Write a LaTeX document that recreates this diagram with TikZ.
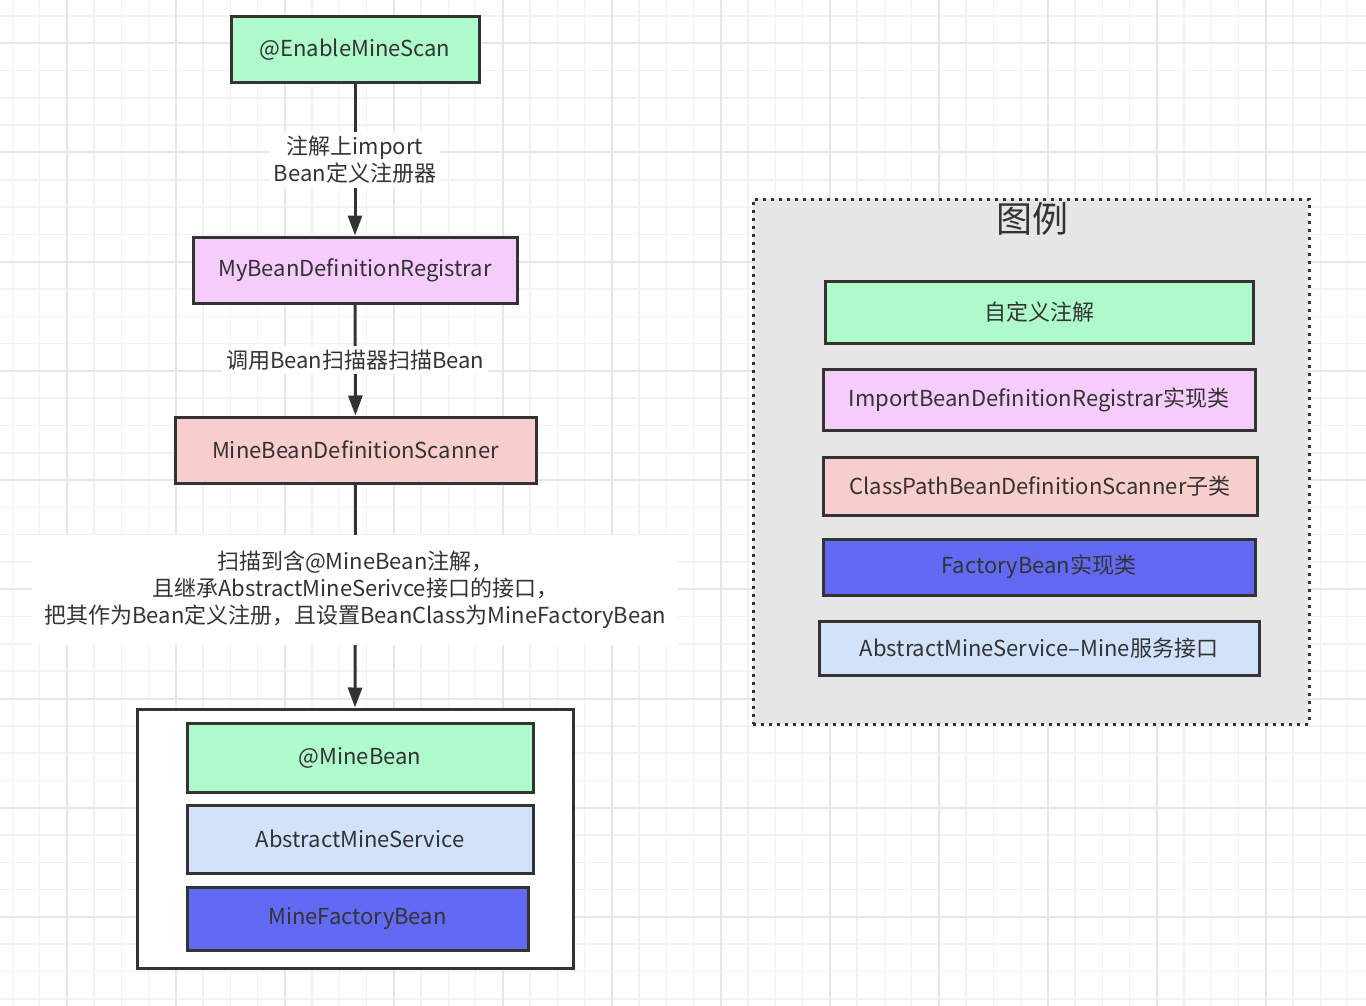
\documentclass[tikz,border=0pt]{standalone}
\usepackage{fontspec}
\setmainfont{Noto Sans CJK SC}
\usepackage{xcolor}
\usetikzlibrary{arrows.meta, positioning}

\definecolor{annogreen}{HTML}{AFFACB}
\definecolor{regpink}{HTML}{F5CCFB}
\definecolor{scanred}{HTML}{F8CECC}
\definecolor{factblue}{HTML}{626AF4}
\definecolor{ifaceblue}{HTML}{D0E3FA}
\definecolor{edgegray}{HTML}{333333}
\definecolor{gridminor}{HTML}{F1F1F1}
\definecolor{gridmajor}{HTML}{E6E6E6}
\definecolor{legendbg}{HTML}{E6E6E6}

\tikzset{
	box/.style={draw=edgegray, line width=1.5pt, text=edgegray, minimum height=33pt, inner sep=0pt, font=\fontsize{11}{13}\selectfont},
	lbl/.style={fill=white, text=edgegray, align=center, inner sep=2pt, font=\fontsize{11}{13.4}\selectfont},
	flow/.style={draw=edgegray, line width=1.5pt, -{Triangle[length=10pt,width=7pt]}},
}

\begin{document}
\begin{tikzpicture}[x=0.5pt, y=-0.5pt]
	\useasboundingbox (0,0) rectangle (1366,1006);
	\fill[white] (0,0) rectangle (1366,1006);
	
	% background grid
	\foreach \k in {0,...,49} \draw[gridminor, line width=0.75pt] ({12.3+27.25*\k},0) -- ({12.3+27.25*\k},1006);
	\foreach \k in {0,...,37} \draw[gridminor, line width=0.75pt] (0,{16+27.3*\k}) -- (1366,{16+27.3*\k});
	\foreach \k in {0,...,12} \draw[gridmajor, line width=1pt] ({66.8+109*\k},0) -- ({66.8+109*\k},1006);
	\foreach \k in {0,...,9} \draw[gridmajor, line width=1pt] (0,{43.3+109.2*\k}) -- (1366,{43.3+109.2*\k});
	
	% flow
	\node[box, fill=annogreen, minimum width=124pt] (enable) at (355,50) {@EnableMineScan};
	\node[box, fill=regpink, minimum width=162pt] (registrar) at (355,270) {MyBeanDefinitionRegistrar};
	\node[box, fill=scanred, minimum width=180.5pt] (scanner) at (355.5,450) {MineBeanDefinitionScanner};
	
	\node[box, fill=white, minimum width=218pt, minimum height=129.5pt] (result) at (355,838.5) {};
	\node[box, fill=annogreen, minimum width=173pt, minimum height=34.5pt] (minebean) at (360,757.5) {@MineBean};
	\node[box, fill=ifaceblue, minimum width=173pt, minimum height=34pt] (abstract) at (360,839) {AbstractMineService};
	\node[box, fill=factblue, minimum width=170.5pt, minimum height=31.5pt] (factory) at (357.5,918.5) {MineFactoryBean};
	
	\draw[flow] (enable) -- node[lbl] {注解上import\\Bean定义注册器} (registrar);
	\draw[flow] (registrar) -- node[lbl] {调用Bean扫描器扫描Bean} (scanner);
	\draw[flow] (scanner) -- node[lbl, yshift=3pt, inner ysep=8pt, inner xsep=6pt] {扫描到含@MineBean注解，\\且继承AbstractMineSerivce接口的接口，\\把其作为Bean定义注册，且设置BeanClass为MineFactoryBean} (result.north);
	
	% legend
	\node[draw=edgegray, fill=legendbg, line width=1.5pt, dash pattern=on 1.5pt off 2.5pt, minimum width=278pt, minimum height=262.5pt] (legend) at (1031,461.5) {};
	\node[text=edgegray, font=\fontsize{18}{20}\selectfont, inner sep=0pt] (legendtitle) at (1032,219) {图例};
	\node[box, fill=annogreen, minimum width=214pt, minimum height=31pt] (keyanno) at (1039,312) {自定义注解};
	\node[box, fill=regpink, minimum width=216pt, minimum height=30.5pt] (keyreg) at (1039,399.5) {ImportBeanDefinitionRegistrar实现类};
	\node[box, fill=scanred, minimum width=217pt, minimum height=29pt] (keyscan) at (1040,486) {ClassPathBeanDefinitionScanner子类};
	\node[box, fill=factblue, minimum width=216pt, minimum height=28pt] (keyfact) at (1039,567) {FactoryBean实现类};
	\node[box, fill=ifaceblue, minimum width=220pt, minimum height=27pt] (keyiface) at (1039,648) {AbstractMineService–Mine服务接口};
\end{tikzpicture}
\end{document}
